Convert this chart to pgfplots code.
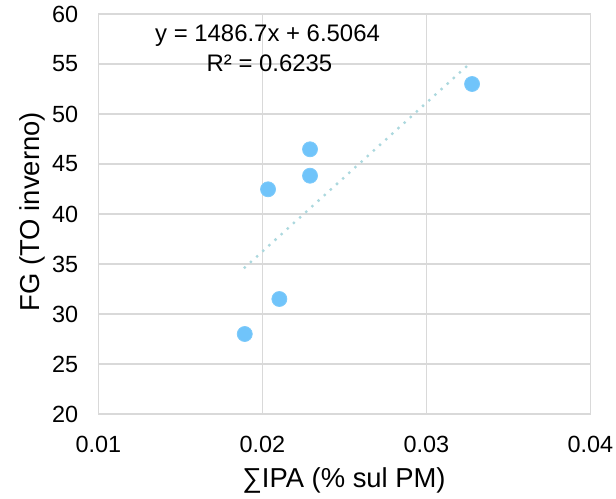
\documentclass[border=0pt]{standalone}
\usepackage{fontspec}
\setmainfont{Liberation Sans}
\usepackage{pgfplots}
\pgfplotsset{compat=1.18}
\definecolor{gridc}{RGB}{217,217,217}
\definecolor{ptfill}{RGB}{112,196,250}
\definecolor{ptdraw}{RGB}{125,202,250}
\definecolor{trend}{RGB}{172,216,222}
\begin{document}
\begin{tikzpicture}
\useasboundingbox (-98.3bp,-85bp) rectangle (517.7bp,414bp);
\begin{axis}[
  at={(0,0)}, anchor=south west,
  scale only axis, width=492bp, height=400bp,
  xmin=0.01, xmax=0.04, ymin=20, ymax=60,
  xtick={0.01,0.02,0.03,0.04},
  xticklabels={0.01,0.02,0.03,0.04},
  ytick={20,25,30,35,40,45,50,55,60},
  scaled x ticks=false,
  /pgf/number format/assume math mode=true,
  major tick length=0pt,
  grid=major,
  grid style={gridc, line width=1.3bp},
  axis line style={gridc, line width=1.3bp},
  ticklabel style={font=\fontsize{23.5}{26}\selectfont},
  xticklabel style={inner sep=0pt, anchor=north, yshift=-22bp},
  yticklabel style={inner sep=0pt, anchor=east, xshift=-20bp},
  xlabel={∑IPA (\% sul PM)},
  ylabel={FG (TO inverno)},
  label style={font=\fontsize{27.5}{30}\selectfont},
  xlabel style={at={(axis description cs:0.4994,-0.165)}, anchor=center},
  ylabel style={at={(axis description cs:-0.134,0.506)}, anchor=center},
  clip=false,
]
\addplot[trend, line width=3.3bp, line cap=round, dash pattern=on 0pt off 8.3bp]
  coordinates {(0.01893,34.65) (0.03279,55.26)};
\addplot[only marks, mark=*, mark size=7.5bp, mark options={fill=ptfill, draw=ptdraw, line width=0.8bp}]
  coordinates {
    (0.03279,53.0)
    (0.02291,46.47)
    (0.02291,43.83)
    (0.02035,42.47)
    (0.02104,31.5)
    (0.01893,28.0)
  };
\node[font=\fontsize{24}{26}\selectfont, anchor=center] at (axis cs:0.02032,57.8) {y = 1486.7x + 6.5064};
\node[font=\fontsize{24}{26}\selectfont, anchor=center] at (axis cs:0.02044,55.1) {R² = 0.6235};
\end{axis}
\end{tikzpicture}
\end{document}
